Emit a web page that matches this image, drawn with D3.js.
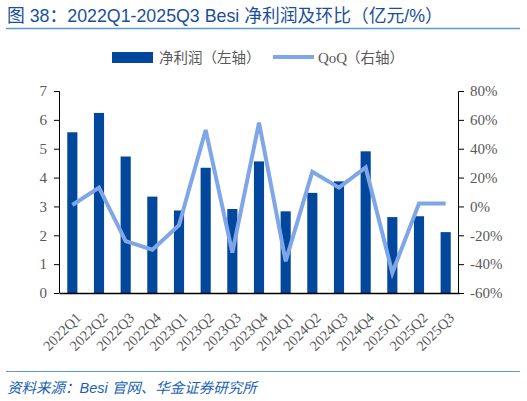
<!DOCTYPE html>
<html>
<head>
<meta charset="utf-8">
<script src="https://cdn.jsdelivr.net/npm/d3@7"></script>
<style>
  body { margin: 0; background: #fff; }
  svg { display: block; }
</style>
</head>
<body>
<svg id="chart" width="527" height="401"></svg>
<script>
// quarters on the x axis
const quarters = ['2022Q1', '2022Q2', '2022Q3', '2022Q4', '2023Q1', '2023Q2', '2023Q3', '2023Q4',
  '2024Q1', '2024Q2', '2024Q3', '2024Q4', '2025Q1', '2025Q2', '2025Q3'];
// net profit, 亿元 (left axis)
const netProfit = [5.57, 6.24, 4.73, 3.34, 2.86, 4.34, 2.91, 4.56, 2.83, 3.47, 3.87, 4.91, 2.63, 2.66, 2.11];
// quarter on quarter change, % (right axis)
const qoq = [1, 13, -24, -30, -13, 53, -32, 58, -38, 24, 13, 27, -46, 2, 2];
const leftTicks = [0, 1, 2, 3, 4, 5, 6, 7];
const rightTicks = [-60, -40, -20, 0, 20, 40, 60, 80];

const svg = d3.select('#chart');
const margin = { top: 91, right: 68, bottom: 108, left: 59 };
const width = 527 - margin.left - margin.right;
const height = 401 - margin.top - margin.bottom;

const serif = '"Liberation Serif", "Times New Roman", serif';
const cjk = '"Noto Sans CJK SC", sans-serif';

// title
svg.append('text')
  .attr('x', 7).attr('y', 22)
  .style('font-family', '"Liberation Sans", Arial, ' + cjk)
  .style('font-size', '17.8px')
  .style('fill', '#1a4f9e')
  .text('图 38：2022Q1-2025Q3 Besi 净利润及环比（亿元/%）');

svg.append('line')
  .attr('x1', 6).attr('x2', 520).attr('y1', 28.5).attr('y2', 28.5)
  .attr('stroke', '#5a9bd5').attr('stroke-width', 1.5);

// legend
const legend = svg.append('g');
legend.append('rect')
  .attr('x', 112).attr('y', 52).attr('width', 41).attr('height', 11)
  .attr('fill', '#00479d');
legend.append('text')
  .attr('x', 159).attr('y', 62.5)
  .style('font-family', cjk).style('font-size', '14.5px').style('fill', '#595959')
  .text('净利润（左轴）');
legend.append('line')
  .attr('x1', 273).attr('x2', 314).attr('y1', 57).attr('y2', 57)
  .attr('stroke', '#7ea6e8').attr('stroke-width', 4);
legend.append('text')
  .attr('x', 318).attr('y', 62.5)
  .style('font-family', serif).style('font-size', '15px').style('fill', '#595959')
  .text('QoQ');
legend.append('text')
  .attr('x', 346).attr('y', 62.5)
  .style('font-family', cjk).style('font-size', '14.5px').style('fill', '#595959')
  .text('（右轴）');

const g = svg.append('g')
  .attr('transform', 'translate(' + margin.left + ',' + margin.top + ')');

const x = d3.scaleBand()
  .domain(quarters)
  .range([0, width])
  .paddingInner(0.62)
  .paddingOuter(0.31);

const y = d3.scaleLinear().domain([0, 7]).range([height, 0]);
const y2 = d3.scaleLinear().domain([-60, 80]).range([height, 0]);

// bars
g.selectAll('.bar')
  .data(netProfit)
  .enter().append('rect')
  .attr('class', 'bar')
  .attr('x', (d, i) => x(quarters[i]))
  .attr('y', d => y(d))
  .attr('width', x.bandwidth())
  .attr('height', d => height - y(d))
  .attr('fill', '#00479d');

// QoQ line
const line = d3.line()
  .x((d, i) => x(quarters[i]) + x.bandwidth() / 2)
  .y(d => y2(d));

g.append('path')
  .datum(qoq)
  .attr('d', line)
  .attr('fill', 'none')
  .attr('stroke', '#7ea6e8')
  .attr('stroke-width', 4)
  .attr('stroke-linejoin', 'miter');

// left axis
const leftAxis = g.append('g')
  .call(d3.axisLeft(y).tickValues(leftTicks).tickSize(5).tickFormat(d3.format('d')));
leftAxis.select('.domain').attr('stroke', '#000').attr('d', 'M-5,0.5H0.5V' + height);
leftAxis.selectAll('.tick line').attr('stroke', '#000');
leftAxis.selectAll('.tick text')
  .attr('x', -12)
  .style('font-family', serif).style('font-size', '15px').style('fill', '#595959');

// right axis
const rightAxis = g.append('g')
  .attr('transform', 'translate(' + width + ',0)')
  .call(d3.axisRight(y2).tickValues(rightTicks).tickSize(5).tickFormat(d => d + '%'));
rightAxis.select('.domain').attr('stroke', '#000').attr('d', 'M5,0.5H-0.5V' + height);
rightAxis.selectAll('.tick line').attr('stroke', '#000');
rightAxis.selectAll('.tick text')
  .attr('x', 11)
  .style('font-family', serif).style('font-size', '15px').style('fill', '#595959');

// bottom axis
const bottomAxis = g.append('g')
  .attr('transform', 'translate(0,' + height + ')')
  .call(d3.axisBottom(x).tickSize(0));
bottomAxis.select('.domain').attr('stroke', '#000').attr('stroke-width', 1.5);
bottomAxis.selectAll('.tick text')
  .style('text-anchor', 'end')
  .style('font-family', serif).style('font-size', '14.5px').style('fill', '#595959')
  .attr('x', 0).attr('y', 0)
  .attr('dy', '0.35em')
  .attr('transform', 'translate(6,22) rotate(-45)');

// footer
svg.append('line')
  .attr('x1', 6).attr('x2', 520).attr('y1', 371.5).attr('y2', 371.5)
  .attr('stroke', '#5a9bd5').attr('stroke-width', 1.2);

svg.append('text')
  .attr('x', 7).attr('y', 393)
  .style('font-family', '"Liberation Sans", Arial, ' + cjk)
  .style('font-size', '14.5px')
  .style('font-style', 'italic')
  .style('fill', '#1a5fb4')
  .text('资料来源：Besi 官网、华金证券研究所');
</script>
</body>
</html>
